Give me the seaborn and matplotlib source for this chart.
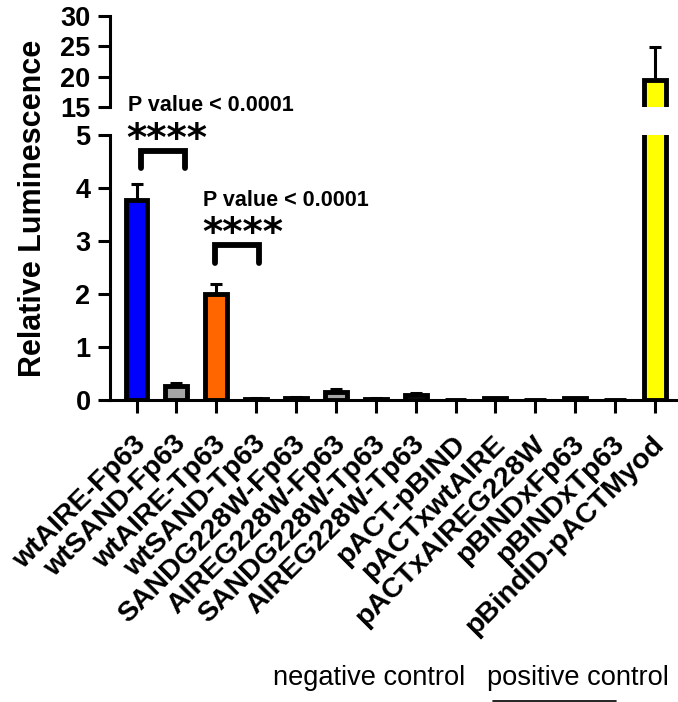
import numpy as np
import matplotlib
matplotlib.use('Agg')
import matplotlib.pyplot as plt
import matplotlib.transforms as mtransforms
import seaborn as sns
from matplotlib.lines import Line2D

sns.set_style('ticks')
plt.rcParams['font.family'] = ['Liberation Sans', 'DejaVu Sans']
for k in ['text.color', 'axes.labelcolor', 'xtick.color', 'ytick.color', 'axes.edgecolor']:
    plt.rcParams[k] = 'black'

labels = ['wtAIRE-Fp63', 'wtSAND-Fp63', 'wtAIRE-Tp63', 'wtSAND-Tp63',
          'SANDG228W-Fp63', 'AIREG228W-Fp63', 'SANDG228W-Tp63', 'AIREG228W-Tp63',
          'pACT-pBIND', 'pACTxwtAIRE', 'pACTxAIREG228W', 'pBINDxFp63',
          'pBINDxTp63', 'pBindID-pACTMyod']
values = [3.78, 0.26, 2.0, 0.02, 0.04, 0.15, 0.02, 0.09, 0.0, 0.03, 0.0, 0.03, 0.0, 19.5]
errors = [0.3, 0.06, 0.18, 0.01, 0.01, 0.05, 0.01, 0.04, 0.0, 0.01, 0.0, 0.01, 0.0, 5.4]
colors = ['#0000FF', '#A6A6A6', '#FF6600', 'white', 'white', '#A6A6A6', 'white',
          '#A6A6A6', 'white', 'white', 'white', 'white', 'white', '#FFFF00']

fig = plt.figure(figsize=(6.78, 7.02), dpi=100)
ax_top = fig.add_axes([0.1622, 0.8476, 0.8378, 0.1296])
ax_low = fig.add_axes([0.1622, 0.4302, 0.8378, 0.3775])

pos = np.arange(len(labels))
for ax in (ax_top, ax_low):
    sns.barplot(x=labels, y=values, hue=labels, palette=colors, legend=False,
                saturation=1, width=0.55, edgecolor='black', linewidth=3.5, ax=ax)
    ax.errorbar(pos, values, yerr=[np.zeros(len(values)), errors], fmt='none',
                ecolor='black', elinewidth=2.2, capsize=4.5, capthick=2.2, zorder=1)
    ax.set_xlim(-0.666, 13.58)
    ax.spines['top'].set_visible(False)
    ax.spines['right'].set_visible(False)
    ax.spines['left'].set_linewidth(2.2)
    ax.spines['bottom'].set_linewidth(2.2)
    ax.tick_params(axis='both', width=2.2, length=9, labelsize=19.5, pad=5)
    ax.set_ylabel('')

ax_top.set_ylim(15, 30)
ax_top.set_yticks([15, 20, 25, 30])
ax_top.set_yticklabels(['15', '20', '25', '30'], fontweight='bold')
ax_top.spines['bottom'].set_visible(False)
ax_top.set_xticks([])

ax_low.set_ylim(0, 5)
ax_low.set_yticks([0, 1, 2, 3, 4, 5])
ax_low.set_yticklabels(['0', '1', '2', '3', '4', '5'], fontweight='bold')
ax_low.set_xticks(pos)
ax_low.set_xticklabels(labels, rotation=45, ha='right', va='center',
                       rotation_mode='anchor', fontweight='bold', fontsize=20.5)
shift = mtransforms.ScaledTranslation(4 / 72, -15 / 72, fig.dpi_scale_trans)
for t in ax_low.get_xticklabels():
    t.set_transform(t.get_transform() + shift)

# significance brackets
ax_low.plot([0.10, 0.10, 1.21, 1.21], [4.38, 4.70, 4.70, 4.38], color='black',
            lw=4.2, clip_on=False, solid_joinstyle='miter')
ax_low.plot([1.98, 1.98, 3.07, 3.07], [2.58, 2.92, 2.92, 2.58], color='black',
            lw=4.2, clip_on=False, solid_joinstyle='miter')
ax_low.text(-0.226, 5.45, 'P value < 0.0001', fontsize=15.5, fontweight='bold',
            clip_on=False)
ax_low.text(-0.25, 4.70, '****', fontsize=28, fontweight='bold',
            family='DejaVu Sans', clip_on=False)
ax_low.text(1.66, 3.66, 'P value < 0.0001', fontsize=15.5, fontweight='bold',
            clip_on=False)
ax_low.text(1.64, 2.93, '****', fontsize=28, fontweight='bold',
            family='DejaVu Sans', clip_on=False)

fig.text(33 / 678, 1 - 208 / 702, 'Relative Luminescence', rotation=90,
         ha='center', va='center', fontsize=22, fontweight='bold')

fig.text(273 / 678, 1 - 678 / 702, 'negative control', fontsize=19.6, va='center')
fig.text(487 / 678, 1 - 678 / 702, 'positive control', fontsize=19.6, va='center')
fig.add_artist(Line2D([493 / 678, 616 / 678], [1 - 700.5 / 702, 1 - 700.5 / 702],
                      color='black', lw=1.2))

fig.savefig('out.png', dpi=100)
